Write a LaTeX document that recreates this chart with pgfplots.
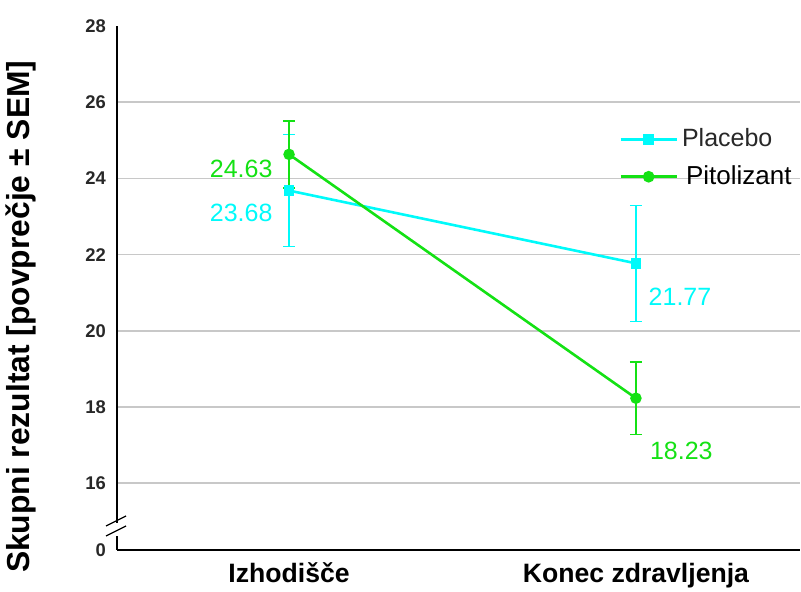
\documentclass[border=0pt]{standalone}
\usepackage{pgfplots}
\pgfplotsset{compat=1.18}
\usepackage{fontspec}
\setmainfont{Liberation Sans}
\definecolor{cy}{RGB}{0,250,250}
\definecolor{gr}{RGB}{20,225,20}
\definecolor{gridc}{RGB}{200,200,200}
\definecolor{tickc}{RGB}{40,40,40}
\begin{document}
\begin{tikzpicture}
\path[use as bounding box] (-58.5pt,-21pt) rectangle (342pt,275pt);
\begin{axis}[
  at={(0,0)}, anchor=south west,
  scale only axis, width=341.5pt, height=262pt,
  xmin=-0.496, xmax=1.473,
  ymin=14.246, ymax=28,
  axis x line=bottom, axis y line=left,
  axis line style={-, black, line width=0.7pt},
  xtick={0,1}, xticklabels={Izhodišče, Konec zdravljenja},
  xticklabel style={font=\fontsize{13.3}{15}\selectfont\bfseries, text=black, yshift=-3pt},
  ytick={16,18,...,26},
  extra y ticks={14.246,28}, extra y tick labels={0,28},
  extra tick style={grid=none},
  yticklabel style={font=\fontsize{9.2}{11}\selectfont\bfseries, text=tickc, xshift=-2pt},
  /pgf/number format/assume math mode=true,
  major tick length=0pt,
  ymajorgrids, grid style={gridc, line width=0.8pt},
  ylabel={Skupni rezultat [povprečje ± SEM]},
  ylabel style={at={(axis description cs:-0.1405,0.445)}, anchor=center, font=\fontsize{15.9}{17}\selectfont\bfseries},
  legend style={draw=none, fill=none, at={(axis description cs:0.726,0.82)}, anchor=north west,
    font=\fontsize{12.5}{14}\selectfont, row sep=4pt},
  legend cell align=left,
  legend image code/.code={\draw[mark repeat=2,mark phase=2, line width=1.4pt] plot coordinates {(0pt,0pt) (14pt,0pt) (28pt,0pt)};},
  clip=false,
]
\addplot+[cy, line width=1.3pt, mark=square*, mark size=2pt, mark options={fill=cy, draw=cy},
  error bars/.cd, y dir=both, y explicit, error bar style={line width=0.7pt, cy}, error mark options={rotate=90, mark size=3pt, line width=0.7pt, cy}]
  coordinates {(0,23.68) +- (0,1.47) (1,21.77) +- (0,1.52)};
\addlegendentry{\textcolor{tickc}{Placebo}}
\addplot+[gr, line width=1.3pt, mark=*, mark size=2.2pt, mark options={fill=gr, draw=gr},
  error bars/.cd, y dir=both, y explicit, error bar style={line width=0.7pt, gr}, error mark options={rotate=90, mark size=3pt, line width=0.7pt, gr}]
  coordinates {(0,24.63) +- (0,0.88) (1,18.23) +- (0,0.95)};
\addlegendentry{\hspace{2pt}\textcolor{black}{\fontsize{13}{14}\selectfont Pitolizant}}
\node[text=gr, font=\fontsize{12.5}{14}\selectfont] at (axis cs:-0.138,24.26) {24.63};
\node[text=cy, font=\fontsize{12.5}{14}\selectfont] at (axis cs:-0.138,23.085) {23.68};
\node[text=cy, font=\fontsize{12.5}{14}\selectfont] at (axis cs:1.127,20.89) {21.77};
\node[text=gr, font=\fontsize{12.5}{14}\selectfont] at (axis cs:1.131,16.84) {18.23};
% axis break
\fill[white] (rel axis cs:0,0) ++(-2pt,7pt) rectangle ++(4pt,6.5pt);
\draw[black, line width=0.6pt] (rel axis cs:0,0) ++(-5.5pt,12pt) -- ++(10pt,5pt);
\draw[black, line width=0.6pt] (rel axis cs:0,0) ++(-5.5pt,7pt) -- ++(10pt,5pt);
\end{axis}
\end{tikzpicture}
\end{document}
